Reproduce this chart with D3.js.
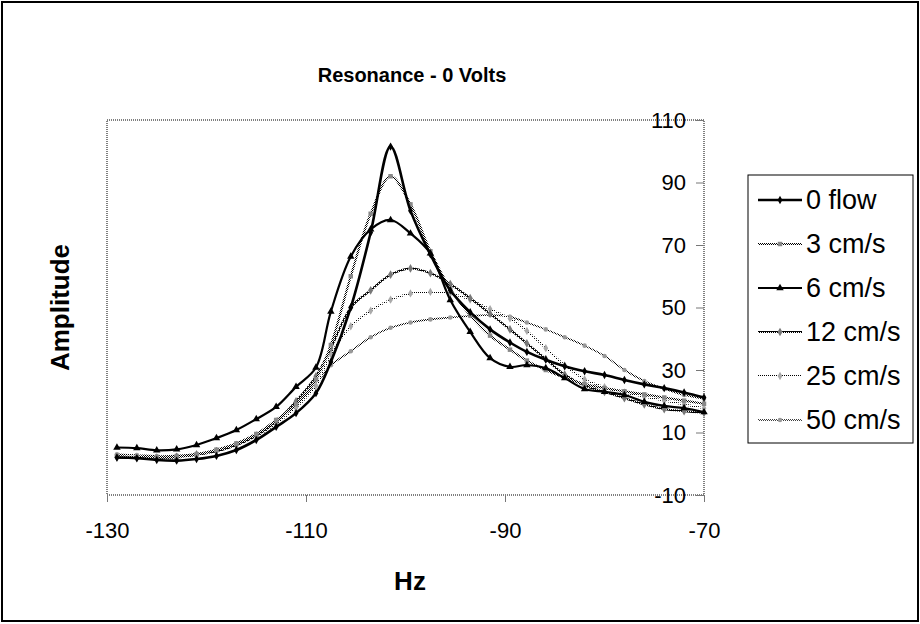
<html>
<head>
<meta charset="utf-8">
<title>Resonance - 0 Volts</title>
<script src="https://d3js.org/d3.v7.min.js"></script>
<style>
body { margin: 0; background: #fff; }
text { font-family: "Liberation Sans", Arial, sans-serif; }
</style>
</head>
<body>
<div id="chart"></div>
<script>
// frequency (Hz) of each sample
var hz = [-129, -127, -125, -123, -121, -119, -117, -115, -113, -111, -109, -107.5, -105.5, -103.5,
          -101.5, -99.5, -97.5, -95.5, -93.5, -91.5, -89.5, -87.8, -85.9, -84, -82, -80, -78, -76, -74, -72, -70];

// amplitude per flow speed
var flow0 = [2.0, 1.8, 1.2, 1.0, 1.5, 2.5, 4.4, 7.6, 11.8, 16.2, 22.6, 32.6, 50.0, 74.0, 101.5, 81.0,
             67.0, 55.5, 48.5, 43.0, 38.8, 35.8, 33.3, 31.2, 29.6, 28.4, 26.8, 25.4, 24.2, 22.8, 21.2];
var cm3   = [2.5, 2.0, 2.0, 2.2, 3.0, 4.5, 6.5, 9.5, 14.0, 19.0, 27.0, 38.0, 60.0, 80.0, 92.0, 83.0,
             68.0, 56.0, 47.5, 41.0, 36.5, 33.0, 30.0, 27.5, 25.5, 24.2, 23.2, 22.2, 21.2, 20.2, 19.2];
var cm6   = [5.2, 5.0, 4.3, 4.6, 6.0, 8.2, 10.8, 14.3, 18.2, 24.6, 30.8, 48.7, 66.3, 75.0, 78.0, 73.7,
             67.3, 52.4, 42.2, 33.8, 31.0, 31.6, 30.6, 27.4, 23.9, 23.0, 22.0, 19.8, 18.5, 17.8, 16.5];
var cm12  = [2.0, 1.8, 1.8, 2.2, 3.0, 4.0, 6.0, 9.0, 13.5, 20.0, 28.0, 37.0, 50.0, 55.5, 60.5, 62.5,
             61.0, 57.5, 53.0, 48.0, 43.0, 38.5, 33.5, 28.5, 25.0, 23.0, 21.0, 19.0, 17.5, 16.8, 16.3];
var cm25  = [2.5, 2.3, 2.0, 2.0, 2.8, 4.0, 6.0, 8.8, 12.8, 18.0, 25.0, 35.0, 44.0, 49.0, 52.5, 54.5,
             55.0, 54.5, 52.5, 49.5, 46.5, 42.5, 37.0, 31.5, 27.0, 24.5, 22.8, 21.5, 20.2, 19.0, 17.8];
var cm50  = [3.0, 2.8, 2.5, 2.6, 3.2, 4.5, 6.5, 9.5, 13.5, 19.0, 25.5, 31.5, 36.0, 40.5, 43.5, 45.2,
             46.2, 46.8, 47.3, 47.6, 47.0, 45.2, 43.0, 40.5, 37.8, 34.5, 30.0, 26.5, 24.0, 22.0, 20.8];

var names = ["0 flow", "3 cm/s", "6 cm/s", "12 cm/s", "25 cm/s", "50 cm/s"];
var xTicks = [-130, -110, -90, -70];
var yTicks = [-10, 10, 30, 50, 70, 90, 110];

// how each series is drawn
var styles = [
  {values: flow0, stroke: "#000",            width: 2.6, symbol: d3.symbolDiamond,  size: 20, fill: "#000"},
  {values: cm3,   stroke: "url(#dither50)",  width: 2.2, symbol: d3.symbolSquare,   size: 20, fill: "#888"},
  {values: cm6,   stroke: "#000",            width: 2.2, symbol: d3.symbolTriangle, size: 24, fill: "#000"},
  {values: cm12,  stroke: "url(#dither75)",  width: 2.0, symbol: d3.symbolDiamond,  size: 22, fill: "#777"},
  {values: cm25,  stroke: "url(#dither25)",  width: 2.0, symbol: d3.symbolDiamond,  size: 20, fill: "#aaa"},
  {values: cm50,  stroke: "url(#dither50)",  width: 1.6, symbol: d3.symbolCircle,   size: 16, fill: "#999"}
];

var W = 920, H = 624;
var plot = {left: 107, right: 704, top: 120, bottom: 495};

var svg = d3.select("#chart").append("svg")
    .attr("width", W)
    .attr("height", H);

// dither patterns, grey lines in the original are checker-printed
var defs = svg.append("defs");
function dither(id, cells) {
  var p = defs.append("pattern")
      .attr("id", id)
      .attr("patternUnits", "userSpaceOnUse")
      .attr("width", 2).attr("height", 2);
  p.append("rect").attr("width", 2).attr("height", 2).attr("fill", "#fff");
  cells.forEach(function(c) {
    p.append("rect").attr("x", c[0]).attr("y", c[1]).attr("width", 1).attr("height", 1).attr("fill", "#000");
  });
}
dither("dither50", [[0, 0], [1, 1]]);
dither("dither75", [[0, 0], [1, 1], [1, 0]]);
dither("dither25", [[0, 0]]);

svg.append("rect").attr("width", W).attr("height", H).attr("fill", "#fff");
svg.append("rect")
    .attr("x", 2).attr("y", 2)
    .attr("width", W - 4).attr("height", H - 5)
    .attr("fill", "none")
    .attr("stroke", "#000")
    .attr("stroke-width", 2);

var x = d3.scaleLinear().domain([-130, -70]).range([plot.left, plot.right]);
var y = d3.scaleLinear().domain([-10, 110]).range([plot.bottom, plot.top]);

// plot area border (dotted grey)
svg.append("rect")
    .attr("x", plot.left).attr("y", plot.top)
    .attr("width", plot.right - plot.left)
    .attr("height", plot.bottom - plot.top)
    .attr("fill", "none")
    .attr("stroke", "#555")
    .attr("stroke-width", 1.5)
    .attr("stroke-dasharray", "1,1");

var plain = function(d) { return String(d); };

// x axis
var xAxis = svg.append("g")
    .attr("transform", "translate(0," + plot.bottom + ")")
    .call(d3.axisBottom(x).tickValues(xTicks).tickSize(7).tickPadding(20).tickFormat(plain));
xAxis.select(".domain").remove();
xAxis.selectAll("line").attr("stroke", "#777");
xAxis.selectAll("text")
    .attr("font-size", "22px")
    .attr("fill", "#000")
    .style("font-family", "'Liberation Sans', Arial, sans-serif");

// y axis sits at x = -70, ticks and labels on its left
var yAxis = svg.append("g")
    .attr("transform", "translate(" + plot.right + ",0)")
    .call(d3.axisLeft(y).tickValues(yTicks).tickSize(8).tickPadding(10).tickFormat(plain));
yAxis.select(".domain").remove();
yAxis.selectAll("line").attr("stroke", "#777");
yAxis.selectAll("text")
    .attr("font-size", "22px")
    .attr("fill", "#000")
    .style("font-family", "'Liberation Sans', Arial, sans-serif");

// series
var line = d3.line()
    .x(function(d) { return x(d[0]); })
    .y(function(d) { return y(d[1]); })
    .curve(d3.curveCatmullRom.alpha(0.5));

var drawOrder = [5, 4, 3, 1, 2, 0];
drawOrder.forEach(function(i) {
  var s = styles[i];
  var pts = hz.map(function(h, k) { return [h, s.values[k]]; });
  svg.append("path")
      .datum(pts)
      .attr("fill", "none")
      .attr("stroke", s.stroke)
      .attr("stroke-width", s.width)
      .attr("d", line);
  svg.append("g").selectAll("path")
      .data(pts)
      .enter()
      .append("path")
      .attr("transform", function(d) { return "translate(" + x(d[0]) + "," + y(d[1]) + ")"; })
      .attr("d", d3.symbol().type(s.symbol).size(s.size))
      .attr("fill", s.fill)
      .attr("stroke", "none");
});

// titles
svg.append("text")
    .attr("x", 412).attr("y", 82)
    .attr("text-anchor", "middle")
    .attr("font-size", "20px")
    .attr("font-weight", "bold")
    .text("Resonance - 0 Volts");

svg.append("text")
    .attr("text-anchor", "middle")
    .attr("font-size", "26px")
    .attr("font-weight", "bold")
    .attr("transform", "translate(69," + ((plot.top + plot.bottom) / 2) + ") rotate(-90)")
    .text("Amplitude");

svg.append("text")
    .attr("x", 410).attr("y", 590)
    .attr("text-anchor", "middle")
    .attr("font-size", "26px")
    .attr("font-weight", "bold")
    .text("Hz");

// legend
var legend = svg.append("g").attr("transform", "translate(748,175)");
legend.append("rect")
    .attr("width", 165).attr("height", 268)
    .attr("fill", "#fff")
    .attr("stroke", "#000")
    .attr("stroke-width", 1);

names.forEach(function(name, i) {
  var s = styles[i];
  var ly = 25 + i * 44;
  legend.append("line")
      .attr("x1", 10).attr("x2", 54)
      .attr("y1", ly).attr("y2", ly)
      .attr("stroke", s.stroke)
      .attr("stroke-width", s.width);
  legend.append("path")
      .attr("transform", "translate(32," + ly + ")")
      .attr("d", d3.symbol().type(s.symbol).size(s.size))
      .attr("fill", s.fill);
  legend.append("text")
      .attr("x", 58).attr("y", ly)
      .attr("dy", "0.35em")
      .attr("font-size", "27px")
      .text(name);
});
</script>
</body>
</html>
